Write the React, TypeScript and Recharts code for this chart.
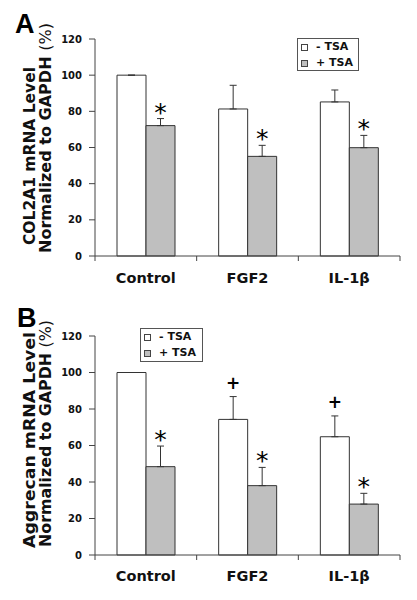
import React from 'react';
import { BarChart, Bar, XAxis, YAxis, ErrorBar, LabelList, Legend } from 'recharts';

const categories = ['Control', 'FGF2', 'IL-1β'];
const seriesNames = ['- TSA', '+ TSA'];
const yTicks = [0, 20, 40, 60, 80, 100, 120];

// Panel A: COL2A1
const colNeg = [100, 81.3, 85.2];
const colNegErr = [0, 13.1, 6.6];
const colPos = [72.1, 55.1, 59.9];
const colPosErr = [3.9, 6.1, 6.8];
const colNegMarks = ['', '', ''];
const colPosMarks = ['*', '*', '*'];

// Panel B: Aggrecan
const aggNeg = [100, 74.3, 64.8];
const aggNegErr = [0, 12.5, 11.4];
const aggPos = [48.4, 38.0, 27.9];
const aggPosErr = [11.3, 10.0, 5.9];
const aggNegMarks = ['', '+', '+'];
const aggPosMarks = ['*', '*', '*'];

const FONT = '"DejaVu Sans", Verdana, sans-serif';
const INK = '#111';
const AXIS = '#444';
const GRAY = '#bfbfbf';
const X_TICK = 5;

function buildRows(neg: number[], negErr: number[], pos: number[], posErr: number[], negMarks: string[], posMarks: string[]) {
  return categories.map((cat, i) => ({
    cat,
    neg: neg[i],
    pos: pos[i],
    negErr: [0, negErr[i]],
    posErr: [0, posErr[i]],
    negMark: negMarks[i],
    posMark: posMarks[i],
  }));
}

const makeMark = (vals: number[], errs: number[]) => (props: any) => {
  const { x, y, width, height, index, value } = props;
  if (!value) return null;
  const v = vals[index];
  const e = errs[index];
  const pxPerUnit = Number(height) / v;
  const top = Number(y) - e * pxPerUnit;
  const cx = Number(x) + Number(width) / 2;
  if (value === '*') {
    const cy = top - 13;
    return (
      <text x={cx} y={cy + 15} textAnchor="middle" fontFamily={FONT} fontSize={25} fill="#000">
        *
      </text>
    );
  }
  const cy = top - 14;
  return (
    <text x={cx} y={cy + 6} textAnchor="middle" fontFamily={FONT} fontWeight="bold" fontSize={17} fill="#000">
      +
    </text>
  );
};

const makeCatTick = (gap: number) => (props: any) => {
  const { x, y, payload, index } = props;
  const half = Number(payload?.offset ?? 0);
  const axisY = Number(y) - X_TICK - gap;
  return (
    <g>
      {index === 0 && half > 0 ? (
        <line x1={x - half} x2={x - half} y1={axisY} y2={axisY + X_TICK} stroke={AXIS} />
      ) : null}
      {half > 0 ? <line x1={x + half} x2={x + half} y1={axisY} y2={axisY + X_TICK} stroke={AXIS} /> : null}
      <text x={x} y={y} dy="0.71em" textAnchor="middle" fontFamily={FONT} fontWeight="bold" fontSize={14.5} fill={INK}>
        {payload.value}
      </text>
    </g>
  );
};

const LegendBox = (props: any) => {
  const payload = [...(props.payload || [])].sort(
    (a: any, b: any) => seriesNames.indexOf(a.value) - seriesNames.indexOf(b.value)
  );
  return (
    <div style={{ border: '1px solid #555', background: '#fff', width: '100%', height: '100%', boxSizing: 'border-box' }}>
      {payload.map((entry: any, i: number) => (
        <div key={i} style={{ display: 'flex', alignItems: 'center', height: 16 }}>
          <span
            style={{
              display: 'inline-block',
              width: 5,
              height: 5,
              border: '1px solid #444',
              background: entry.payload?.fill ?? entry.color,
              marginLeft: 3,
              marginRight: 8,
            }}
          />
          <span style={{ fontFamily: FONT, fontWeight: 'bold', fontSize: 11, color: INK, lineHeight: '16px', whiteSpace: 'pre' }}>
            {entry.value}
          </span>
        </div>
      ))}
    </div>
  );
};

type PanelProps = {
  letter: string;
  letterX: number;
  letterY: number;
  line1: string;
  start1: number;
  len1: number;
  start2: number;
  len2: number;
  rows: any[];
  neg: number[];
  negErr: number[];
  pos: number[];
  posErr: number[];
  marginTop: number;
  axisHeight: number;
  legendPos: { left: number; top: number; width: number; height: number };
  labelGap: number;
};

function Panel(p: PanelProps) {
  const yLabel = () => (
    <g>
      <text x={p.letterX} y={p.letterY} fontFamily='"Liberation Sans Narrow", "Liberation Sans", Arial, sans-serif' fontWeight="bold" fontSize={27} fill="#000">
        {p.letter}
      </text>
      <text
        transform={`translate(35, ${p.start1}) rotate(-90)`}
        textLength={p.len1}
        lengthAdjust="spacingAndGlyphs"
        fontFamily={FONT}
        fontWeight="bold"
        fontSize={16.5}
        fill={INK}
      >
        {p.line1}
      </text>
      <text
        transform={`translate(51, ${p.start2}) rotate(-90)`}
        textLength={p.len2}
        lengthAdjust="spacingAndGlyphs"
        fontFamily={FONT}
        fontWeight="bold"
        fontSize={16.5}
        fill={INK}
      >
        Normalized to GAPDH <tspan fontWeight="normal">(%)</tspan>
      </text>
    </g>
  );

  return (
    <BarChart
      width={417}
      height={300}
      data={p.rows}
      margin={{ top: p.marginTop, right: 17, left: 0, bottom: 0 }}
      barGap={0}
      barSize={29}
    >
      <XAxis
        dataKey="cat"
        height={p.axisHeight}
        interval={0}
        tickLine={{ stroke: 'none' }}
        axisLine={{ stroke: AXIS }}
        tickSize={X_TICK}
        tickMargin={p.labelGap}
        tick={makeCatTick(p.labelGap)}
      />
      <YAxis
        width={95}
        domain={[0, 120]}
        ticks={yTicks}
        interval={0}
        axisLine={{ stroke: AXIS }}
        tickLine={{ stroke: AXIS }}
        tickSize={6}
        tickMargin={7}
        tick={{ fontFamily: FONT, fontWeight: 'bold', fontSize: 10, fill: INK }}
        label={{ content: yLabel }}
      />
      <Legend
        layout="vertical"
        align="center"
        verticalAlign="middle"
        content={<LegendBox />}
        wrapperStyle={{ ...p.legendPos }}
      />
      <Bar dataKey="neg" name={seriesNames[0]} fill="#ffffff" stroke="#333" strokeWidth={1} isAnimationActive={false}>
        <ErrorBar dataKey="negErr" width={3.5} stroke="#333" strokeWidth={1} direction="y" />
        <LabelList dataKey="negMark" content={makeMark(p.neg, p.negErr)} />
      </Bar>
      <Bar dataKey="pos" name={seriesNames[1]} fill={GRAY} stroke="#333" strokeWidth={1} isAnimationActive={false}>
        <ErrorBar dataKey="posErr" width={3.5} stroke="#333" strokeWidth={1} direction="y" />
        <LabelList dataKey="posMark" content={makeMark(p.pos, p.posErr)} />
      </Bar>
    </BarChart>
  );
}

export default function App() {
  const rowsA = buildRows(colNeg, colNegErr, colPos, colPosErr, colNegMarks, colPosMarks);
  const rowsB = buildRows(aggNeg, aggNegErr, aggPos, aggPosErr, aggNegMarks, aggPosMarks);
  return (
    <div style={{ position: 'absolute', left: 0, top: 0, width: 417, height: 600, background: '#fff' }}>
      <Panel
        letter="A"
        letterX={15}
        letterY={33}
        line1="COL2A1 mRNA Level"
        start1={245}
        len1={178}
        start2={253}
        len2={230}
        rows={rowsA}
        neg={colNeg}
        negErr={colNegErr}
        pos={colPos}
        posErr={colPosErr}
        marginTop={39}
        axisHeight={44}
        legendPos={{ left: 297, top: 38, width: 62, height: 33 }}
        labelGap={12}
      />
      <Panel
        letter="B"
        letterX={17}
        letterY={27}
        line1="Aggrecan mRNA Level"
        start1={248}
        len1={216}
        start2={247}
        len2={227}
        rows={rowsB}
        neg={aggNeg}
        negErr={aggNegErr}
        pos={aggPos}
        posErr={aggPosErr}
        marginTop={36}
        axisHeight={45}
        legendPos={{ left: 140, top: 28, width: 63, height: 34 }}
        labelGap={11}
      />
    </div>
  );
}
